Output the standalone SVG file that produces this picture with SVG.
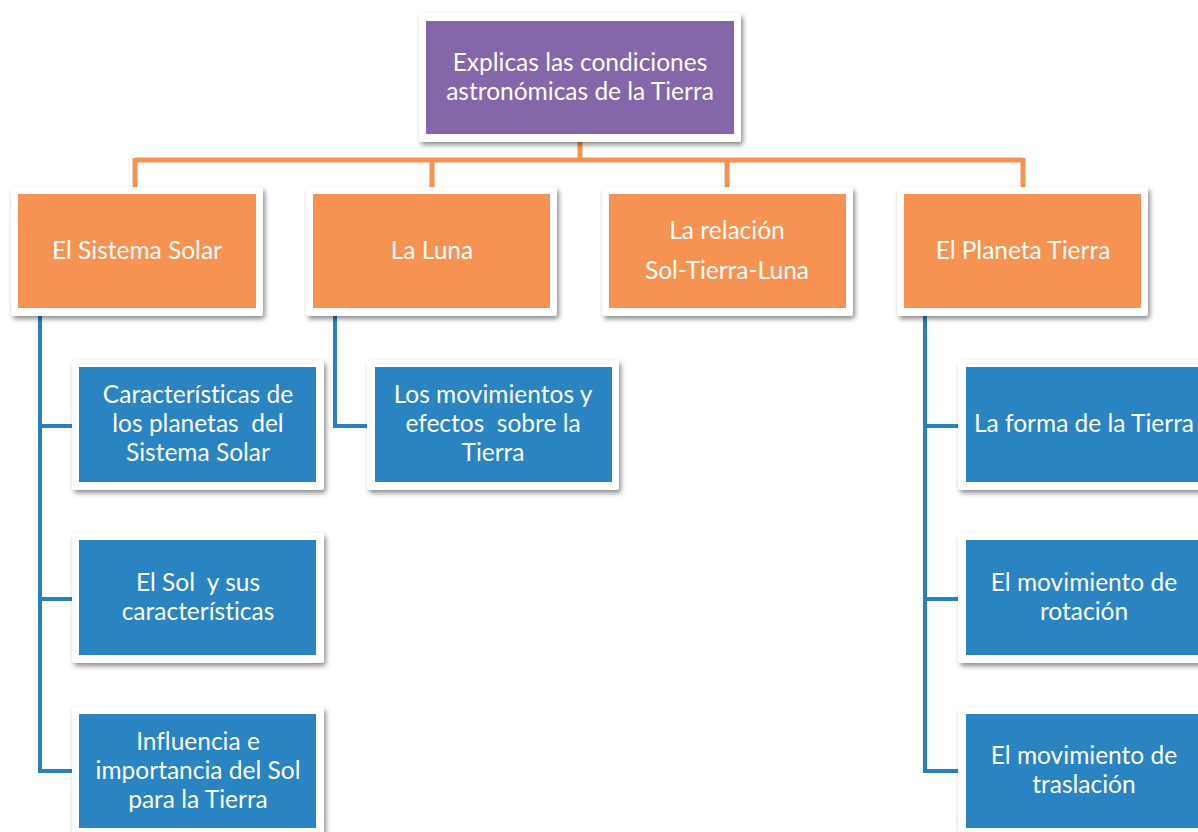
<svg xmlns="http://www.w3.org/2000/svg" width="1198" height="832" viewBox="0 0 1198 832">
<defs>
<filter id="sh" x="-10%" y="-10%" width="125%" height="130%">
<feDropShadow dx="2" dy="3" stdDeviation="2.5" flood-color="#000" flood-opacity="0.45"/>
</filter>
<style>
.frame{fill:#fff;filter:url(#sh)}
.purple{fill:#8466a9}
.orange{fill:#f79352}
.blue{fill:#2a84c2}
text{font-family:Lato,"Open Sans",sans-serif;font-size:24.5px;fill:#fff;text-anchor:middle;font-variant-ligatures:none;font-feature-settings:"liga" 0,"clig" 0,"dlig" 0}
.oc{stroke:#f79352;stroke-width:5;fill:none}
.bc{stroke:#2a7fbe;stroke-width:4;fill:none}
</style>
</defs>
<rect width="1198" height="832" fill="#fff"/>
<g id="connectors">
<path class="oc" d="M580 142V160M135 160H1023M135 158V188M432 158V188M727 158V188M1023 158V188"/>
<path class="bc" d="M40 316V771M38 426H73M38 599H73M38 771H73"/>
<path class="bc" d="M335 316V426H368"/>
<path class="bc" d="M925 316V771M923 426H959M923 599H959M923 771H959"/>
</g>
<g id="root">
<rect class="frame" x="419" y="13" width="322" height="129" rx="3"/>
<rect class="purple" x="426" y="21" width="308" height="113"/>
<text x="580" y="71">Explicas las condiciones</text>
<text x="580" y="100">astronómicas de la Tierra</text>
</g>
<g id="sistema-solar">
<rect class="frame" x="11" y="187" width="252" height="129" rx="3"/>
<rect class="orange" x="18" y="194" width="238" height="114"/>
<text x="137" y="259">El Sistema Solar</text>
</g>
<g id="luna">
<rect class="frame" x="306" y="187" width="251" height="129" rx="3"/>
<rect class="orange" x="313" y="194" width="237" height="114"/>
<text x="432" y="259">La Luna</text>
</g>
<g id="relacion">
<rect class="frame" x="602" y="187" width="251" height="129" rx="3"/>
<rect class="orange" x="609" y="194" width="237" height="114"/>
<text x="727" y="239">La relación</text>
<text x="727" y="279">Sol-Tierra-Luna</text>
</g>
<g id="planeta-tierra">
<rect class="frame" x="897" y="187" width="251" height="129" rx="3"/>
<rect class="orange" x="904" y="194" width="237" height="114"/>
<text x="1023" y="259">El Planeta Tierra</text>
</g>
<g id="caracteristicas">
<rect class="frame" x="72" y="360" width="252" height="130" rx="3"/>
<rect class="blue" x="79" y="367" width="237" height="115"/>
<text x="198" y="403">Características de</text>
<text x="198" y="432" xml:space="preserve">los planetas  del</text>
<text x="198" y="461">Sistema Solar</text>
</g>
<g id="sol">
<rect class="frame" x="72" y="533" width="252" height="130" rx="3"/>
<rect class="blue" x="79" y="540" width="237" height="115"/>
<text x="198" y="591" xml:space="preserve">El Sol  y sus</text>
<text x="198" y="620">características</text>
</g>
<g id="influencia">
<rect class="frame" x="72" y="707" width="252" height="130" rx="3"/>
<rect class="blue" x="79" y="714" width="237" height="114"/>
<text x="198" y="750">Influencia e</text>
<text x="198" y="779">importancia del Sol</text>
<text x="198" y="808">para la Tierra</text>
</g>
<g id="movimientos">
<rect class="frame" x="367" y="360" width="252" height="130" rx="3"/>
<rect class="blue" x="375" y="367" width="237" height="115"/>
<text x="493" y="403">Los movimientos y</text>
<text x="493" y="432" xml:space="preserve">efectos  sobre la</text>
<text x="493" y="461">Tierra</text>
</g>
<g id="forma">
<rect class="frame" x="958" y="360" width="252" height="130" rx="3"/>
<rect class="blue" x="966" y="367" width="237" height="115"/>
<text x="1084" y="432">La forma de la Tierra</text>
</g>
<g id="rotacion">
<rect class="frame" x="958" y="533" width="252" height="130" rx="3"/>
<rect class="blue" x="966" y="540" width="237" height="115"/>
<text x="1084" y="591">El movimiento de</text>
<text x="1084" y="620">rotación</text>
</g>
<g id="traslacion">
<rect class="frame" x="958" y="707" width="252" height="130" rx="3"/>
<rect class="blue" x="966" y="714" width="237" height="114"/>
<text x="1084" y="764">El movimiento de</text>
<text x="1084" y="793">traslación</text>
</g>
</svg>
